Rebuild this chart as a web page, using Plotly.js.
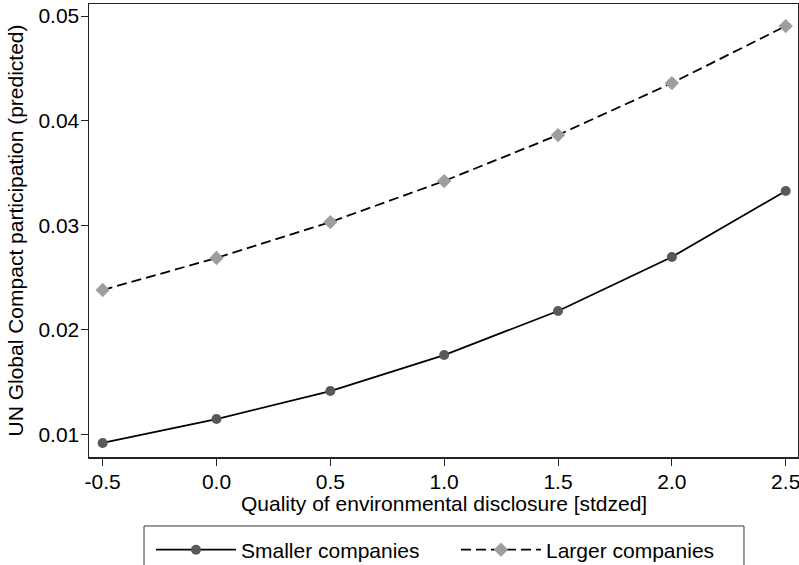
<!DOCTYPE html>
<html>
<head>
<meta charset="utf-8">
<script src="https://cdn.plot.ly/plotly-3.0.1.min.js"></script>
<style>html,body{margin:0;padding:0;background:#fff;}#chart{width:799px;height:565px;}</style>
</head>
<body>
<div id="chart"></div>
<script>
const xValues = [-0.5, 0.0, 0.5, 1.0, 1.5, 2.0, 2.5];
const smallerCompanies = [0.00917, 0.01146, 0.01414, 0.01758, 0.02179, 0.02696, 0.03327];
const largerCompanies = [0.0238, 0.02686, 0.0303, 0.03422, 0.03862, 0.04359, 0.04904];
const xTickVals = [-0.5, 0.0, 0.5, 1.0, 1.5, 2.0, 2.5];
const xTickText = ['-0.5', '0.0', '0.5', '1.0', '1.5', '2.0', '2.5'];
const yTickVals = [0.01, 0.02, 0.03, 0.04, 0.05];
const yTickText = ['0.01', '0.02', '0.03', '0.04', '0.05'];
const xTitle = 'Quality of environmental disclosure [stdzed]';
const yTitle = 'UN Global Compact participation (predicted)';

const font = {family: 'Liberation Sans, Arial, sans-serif', size: 21, color: '#000'};

const traces = [
  {
    x: xValues, y: smallerCompanies, name: 'Smaller companies',
    type: 'scatter', mode: 'lines+markers',
    line: {color: '#000', width: 1.8},
    marker: {symbol: 'circle', size: 10, color: '#595959'}
  },
  {
    x: xValues, y: largerCompanies, name: 'Larger companies',
    type: 'scatter', mode: 'lines+markers',
    line: {color: '#000', width: 1.8, dash: '10px,5px'},
    marker: {symbol: 'diamond', size: 11, color: '#9e9e9e'}
  }
];

const layout = {
  width: 799, height: 565,
  margin: {l: 89, r: 1, t: 4, b: 108, pad: 0, autoexpand: false},
  paper_bgcolor: '#fff', plot_bgcolor: '#fff',
  font: font,
  showlegend: true,
  xaxis: {
    range: [-0.56, 2.554],
    tickvals: xTickVals, ticktext: xTickText,
    ticks: 'outside', ticklen: 7, tickwidth: 1, tickcolor: '#222',
    ticklabeloverflow: 'allow', ticklabelstandoff: -2,
    showline: true, mirror: true, linecolor: '#222', linewidth: 1.5,
    showgrid: false, zeroline: false,
    tickfont: font,
    automargin: false
  },
  yaxis: {
    range: [0.00783, 0.05115],
    tickvals: yTickVals, ticktext: yTickText,
    ticks: 'outside', ticklen: 7, tickwidth: 1, tickcolor: '#222',
    ticklabeloverflow: 'allow', ticklabelstandoff: -3,
    showline: true, mirror: true, linecolor: '#222', linewidth: 1.5,
    showgrid: false, zeroline: false,
    tickfont: font,
    title: {text: yTitle, font: font, standoff: 9},
    automargin: false
  },
  annotations: [
    {text: xTitle, xref: 'paper', yref: 'paper', x: 0.5, y: -0.1026,
     xanchor: 'center', yanchor: 'middle', showarrow: false, font: font}
  ],
  shapes: [
    {type: 'rect', xref: 'paper', yref: 'paper',
     x0: 0.0776, x1: 0.9238, y0: -0.1523, y1: -0.30,
     line: {color: '#333', width: 1}, fillcolor: 'rgba(0,0,0,0)', layer: 'above'}
  ],
  legend: {
    orientation: 'h',
    x: 0.0874, xanchor: 'left',
    y: -0.1602, yanchor: 'top',
    borderwidth: 0,
    bgcolor: 'rgba(0,0,0,0)',
    font: font,
    entrywidth: 210, entrywidthmode: 'pixels',
    itemwidth: 80
  }
};

Plotly.newPlot('chart', traces, layout, {displayModeBar: false, staticPlot: true});
</script>
</body>
</html>
